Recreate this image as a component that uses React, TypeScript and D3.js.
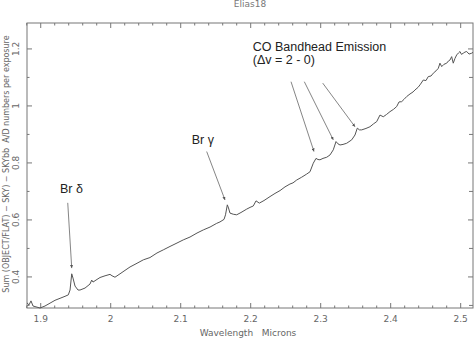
import { useMemo } from 'react';
import * as d3 from 'd3';

// spectrum of Elias18 (wavelength in microns, counts)
const wavelength = [
  1.8804, 1.8833, 1.8861, 1.889, 1.8933, 1.899, 1.9061, 1.9133, 1.9204, 1.9276,
  1.9347, 1.9394, 1.9419, 1.9443, 1.9461, 1.949, 1.9533, 1.9561, 1.9633, 1.9704,
  1.9729, 1.9747, 1.979, 1.9847, 1.9919, 1.999, 2.0019, 2.0061, 2.0133, 2.0204,
  2.0276, 2.0376, 2.0466, 2.0561, 2.0661, 2.0751, 2.0847, 2.0947, 2.1037, 2.1133,
  2.1233, 2.1323, 2.1419, 2.1514, 2.1561, 2.1619, 2.164, 2.1666, 2.1683, 2.1704,
  2.1751, 2.18, 2.1861, 2.1943, 2.199, 2.2037, 2.2076, 2.2123, 2.219, 2.2276,
  2.2347, 2.2419, 2.249, 2.2561, 2.2604, 2.2657, 2.2729, 2.28, 2.2847, 2.2894,
  2.2933, 2.2961, 2.299, 2.3033, 2.3086, 2.3133, 2.318, 2.3219, 2.3247, 2.3276,
  2.3319, 2.3371, 2.3443, 2.349, 2.3523, 2.3554, 2.3586, 2.3647, 2.3704, 2.3754,
  2.38, 2.3847, 2.3894, 2.394, 2.399, 2.404, 2.4086, 2.4119, 2.4157, 2.419,
  2.4229, 2.4276, 2.4319, 2.4347, 2.439, 2.4419, 2.4466, 2.4504, 2.4537, 2.4576,
  2.4609, 2.4647, 2.468, 2.4704, 2.4729, 2.4761, 2.48, 2.4826, 2.4847, 2.4871,
  2.4894, 2.4919, 2.4943, 2.4969, 2.499, 2.5011, 2.5037, 2.5061, 2.5086, 2.5119,
  2.5157, 2.5176,
];

const flux = [
  0.309, 0.302, 0.316, 0.298, 0.295, 0.291, 0.298, 0.308, 0.318, 0.325,
  0.332, 0.337, 0.354, 0.411, 0.396, 0.368, 0.354, 0.354, 0.361, 0.375,
  0.389, 0.382, 0.389, 0.398, 0.404, 0.409, 0.404, 0.399, 0.411, 0.423,
  0.435, 0.448, 0.46, 0.468, 0.484, 0.495, 0.507, 0.519, 0.53, 0.54,
  0.554, 0.565, 0.575, 0.588, 0.593, 0.602, 0.618, 0.653, 0.642, 0.624,
  0.62, 0.618, 0.626, 0.638, 0.644, 0.649, 0.667, 0.659, 0.668, 0.682,
  0.693, 0.703, 0.716, 0.726, 0.73, 0.74, 0.75, 0.761, 0.769, 0.799,
  0.816, 0.812, 0.811, 0.816, 0.82, 0.828, 0.846, 0.875, 0.867, 0.863,
  0.865, 0.869, 0.881, 0.898, 0.922, 0.916, 0.916, 0.921, 0.927, 0.937,
  0.945, 0.968, 0.962, 0.97, 0.98, 0.988, 0.998, 1.014, 1.015, 1.023,
  1.033, 1.042, 1.049, 1.056, 1.065, 1.074, 1.091, 1.089, 1.103, 1.105,
  1.115, 1.123, 1.132, 1.15, 1.138, 1.146, 1.15, 1.158, 1.161, 1.173,
  1.15, 1.167, 1.179, 1.186, 1.191, 1.181, 1.185, 1.189, 1.191, 1.182,
  1.185, 1.188,
];

const xTicks = [1.9, 2, 2.1, 2.2, 2.3, 2.4, 2.5];
const yTicks = [0.4, 0.6, 0.8, 1, 1.2];

// arrows: tail -> tip, in data units
const arrows = [
  { x1: 1.9386, y1: 0.66, x2: 1.9443, y2: 0.431 },
  { x1: 2.1371, y1: 0.84, x2: 2.1633, y2: 0.67 },
  { x1: 2.2576, y1: 1.085, x2: 2.2904, y2: 0.84 },
  { x1: 2.2766, y1: 1.085, x2: 2.318, y2: 0.881 },
  { x1: 2.3029, y1: 1.08, x2: 2.349, y2: 0.927 },
];

const labels = [
  { x: 2.2029, y: 1.193, text: 'CO Bandhead Emission' },
  { x: 2.2029, y: 1.147, text: '(Δv = 2 - 0)' },
  { x: 2.1157, y: 0.867, text: 'Br γ' },
  { x: 1.9276, y: 0.695, text: 'Br δ' },
];

const W = 474;
const H = 339;
const margin = { top: 23, right: 1, bottom: 31, left: 27 };
const AXIS = '#777';
const TXT = '#666';
const TICKFONT = 'DejaVu Sans, sans-serif';

export default function App() {
  const innerW = W - margin.left - margin.right;
  const innerH = H - margin.top - margin.bottom;

  const x = useMemo(() => d3.scaleLinear().domain([1.8804, 2.5176]).range([0, innerW]), [innerW]);
  const y = useMemo(() => d3.scaleLinear().domain([0.291, 1.291]).range([innerH, 0]), [innerH]);

  const points = wavelength.map((w, i) => [w, flux[i]] as [number, number]);
  const line = d3.line<[number, number]>().x(d => x(d[0])).y(d => y(d[1]));

  const xMinor = d3.range(1.88, 2.52, 0.02).filter(v => !xTicks.some(t => Math.abs(t - v) < 1e-6));
  const yMinor = [0.3, 0.5, 0.7, 0.9, 1.1];

  return (
    <svg width={W} height={H} style={{ position: 'fixed', left: 0, top: 0, background: '#fff' }}>
      <defs>
        <marker id="ah" viewBox="0 0 6 6" refX="6" refY="3" markerWidth="4" markerHeight="4" orient="auto">
          <path d="M0,0 L6,3 L0,6 z" fill="#555" />
        </marker>
      </defs>
      <text x={250} y={7} textAnchor="middle" fontSize={9} fill="#777" fontFamily={TICKFONT}>Elias18</text>
      <g transform={`translate(${margin.left},${margin.top})`}>
        <rect x={0} y={0} width={innerW} height={innerH} fill="none" stroke={AXIS} strokeWidth={1} />
        {xTicks.map(t => (
          <g key={`xt${t}`}>
            <line x1={x(t)} x2={x(t)} y1={innerH} y2={innerH - 5} stroke={AXIS} />
            <line x1={x(t)} x2={x(t)} y1={0} y2={5} stroke={AXIS} />
            <text x={x(t)} y={innerH + 14} textAnchor="middle" fontSize={9} fill={TXT} fontFamily={TICKFONT}>
              {d3.format('')(t)}
            </text>
          </g>
        ))}
        {xMinor.map(t => (
          <g key={`xm${t}`}>
            <line x1={x(t)} x2={x(t)} y1={innerH} y2={innerH - 2.5} stroke={AXIS} />
            <line x1={x(t)} x2={x(t)} y1={0} y2={2.5} stroke={AXIS} />
          </g>
        ))}
        {yTicks.map(t => (
          <g key={`yt${t}`}>
            <line x1={0} x2={5} y1={y(t)} y2={y(t)} stroke={AXIS} />
            <line x1={innerW} x2={innerW - 5} y1={y(t)} y2={y(t)} stroke={AXIS} />
            <text
              transform={`translate(${-8},${y(t)}) rotate(-90)`}
              textAnchor="middle"
              fontSize={9}
              fill={TXT}
              fontFamily={TICKFONT}
            >
              {d3.format('')(t)}
            </text>
          </g>
        ))}
        {yMinor.map(t => (
          <g key={`ym${t}`}>
            <line x1={0} x2={2.5} y1={y(t)} y2={y(t)} stroke={AXIS} />
            <line x1={innerW} x2={innerW - 4} y1={y(t)} y2={y(t)} stroke={AXIS} />
          </g>
        ))}
        <path d={line(points) ?? ''} fill="none" stroke="#555" strokeWidth={1} strokeLinejoin="round" />
        {arrows.map((a, i) => (
          <line
            key={`ar${i}`}
            x1={x(a.x1)}
            y1={y(a.y1)}
            x2={x(a.x2)}
            y2={y(a.y2)}
            stroke="#666"
            strokeWidth={0.8}
            markerEnd="url(#ah)"
          />
        ))}
        {labels.map(l => (
          <text
            key={l.text}
            x={x(l.x)}
            y={y(l.y)}
            fontSize={12.5}
            fill="#222"
            fontFamily="Liberation Sans, Arial, sans-serif"
          >
            {l.text}
          </text>
        ))}
      </g>
      <text x={248} y={336} textAnchor="middle" fontSize={9} fill={TXT} fontFamily={TICKFONT} xmlSpace="preserve">
        {'Wavelength   Microns'}
      </text>
      <text
        transform={`translate(8.5,164) rotate(-90)`}
        textAnchor="middle"
        fontSize={8}
        fill={TXT}
        fontFamily={TICKFONT}
        xmlSpace="preserve"
      >
        {'Sum (OBJECT/FLAT) − SKY) − SKYbb  A/D numbers per exposure'}
      </text>
    </svg>
  );
}
